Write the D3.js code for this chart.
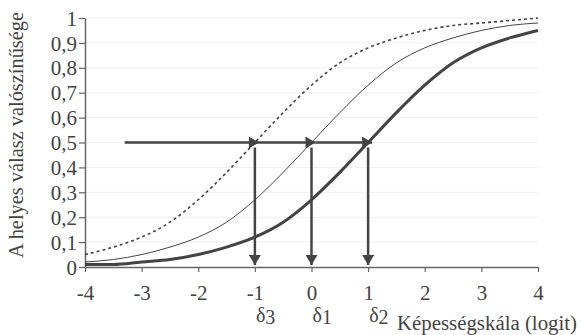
<!DOCTYPE html>
<html>
<head>
<meta charset="utf-8">
<script src="https://cdn.jsdelivr.net/npm/d3@7"></script>
<style>
  body { margin: 0; background: #fff; }
  svg { display: block; }
  text { font-family: "Liberation Serif", "Times New Roman", serif; fill: #444; }
</style>
</head>
<body>
<svg id="chart" width="580" height="335"></svg>
<script>
// ability scale points (logit)
const abilities = [-4, -3.5, -3, -2.5, -2, -1.5, -1, -0.5, 0, 0.5, 1, 1.5, 2, 2.5, 3, 3.5, 4];
// probability of correct answer
const itemDelta1 = [0.02, 0.03, 0.05, 0.08, 0.12, 0.18, 0.27, 0.38, 0.50, 0.62, 0.73, 0.82, 0.88, 0.92, 0.95, 0.97, 0.98];
const itemDelta2 = [0.01, 0.01, 0.02, 0.03, 0.05, 0.08, 0.12, 0.18, 0.27, 0.38, 0.50, 0.62, 0.73, 0.82, 0.88, 0.92, 0.95];
const itemDelta3 = [0.05, 0.08, 0.12, 0.18, 0.27, 0.38, 0.50, 0.62, 0.73, 0.82, 0.88, 0.92, 0.95, 0.97, 0.98, 0.99, 1.00];
const deltas = [["δ", "3", -1], ["δ", "1", 0], ["δ", "2", 1]];
const arrowStart = -3.3;
const xTicks = [-4, -3, -2, -1, 0, 1, 2, 3, 4];
const yTicks = [0, 0.1, 0.2, 0.3, 0.4, 0.5, 0.6, 0.7, 0.8, 0.9, 1];

const margin = { top: 18, right: 42, bottom: 68, left: 85 },
    width = 580 - margin.left - margin.right,
    height = 335 - margin.top - margin.bottom;

const svg = d3.select("#chart");
const g = svg.append("g")
    .attr("transform", `translate(${margin.left},${margin.top})`);

const x = d3.scaleLinear().domain([-4, 4]).range([0, width]);
const y = d3.scaleLinear().domain([0, 1]).range([height, 0]);

const ink = "#444";

// arrowheads
const defs = svg.append("defs");
defs.append("marker")
    .attr("id", "head")
    .attr("viewBox", "0 0 10 12")
    .attr("refX", 10).attr("refY", 6)
    .attr("markerWidth", 11).attr("markerHeight", 12)
    .attr("markerUnits", "userSpaceOnUse")
    .attr("orient", "auto")
    .append("path")
    .attr("d", "M0,0 L10,6 L0,12 Z")
    .attr("fill", ink);

// gridlines
g.append("g").selectAll("line")
    .data(yTicks.slice(1))
    .enter().append("line")
    .attr("x1", 0).attr("x2", width)
    .attr("y1", d => y(d)).attr("y2", d => y(d))
    .attr("stroke", "#f0f0f0")
    .attr("stroke-width", 1);

// axes
const yAxis = g.append("g")
    .call(d3.axisLeft(y).tickValues(yTicks).tickSize(6).tickSizeOuter(0)
        .tickFormat(d => String(d).replace(".", ",")));
const xAxis = g.append("g")
    .attr("transform", `translate(0,${height})`)
    .call(d3.axisBottom(x).tickValues(xTicks).tickSize(5).tickSizeOuter(0)
        .tickFormat(d => String(d)));

[yAxis, xAxis].forEach(a => {
    a.select(".domain").attr("stroke", "#666").attr("stroke-width", 1.5);
    a.selectAll(".tick line").attr("stroke", "#666").attr("stroke-width", 1.2);
    a.selectAll(".tick text").attr("font-size", 21).attr("fill", ink)
        .style("font-family", "'Liberation Serif', serif");
});
yAxis.selectAll(".tick text").attr("x", -8).attr("dy", "0.34em");
xAxis.selectAll(".tick text").attr("y", 33).attr("dy", 0);

// curves
const line = d3.line()
    .x((d, i) => x(abilities[i]))
    .y(d => y(d))
    .curve(d3.curveMonotoneX);

g.append("path").datum(itemDelta3)
    .attr("d", line).attr("fill", "none")
    .attr("stroke", ink).attr("stroke-width", 1.6)
    .attr("stroke-dasharray", "3,3");
g.append("path").datum(itemDelta1)
    .attr("d", line).attr("fill", "none")
    .attr("stroke", ink).attr("stroke-width", 1);
g.append("path").datum(itemDelta2)
    .attr("d", line).attr("fill", "none")
    .attr("stroke", ink).attr("stroke-width", 3);

// horizontal arrow segments at p = 0.5
const stops = [arrowStart].concat(deltas.map(d => d[2]));
for (let i = 0; i < deltas.length; i++) {
    g.append("line")
        .attr("x1", x(stops[i]) + (i ? 4 : 0)).attr("x2", x(stops[i + 1]) + 4)
        .attr("y1", y(0.5)).attr("y2", y(0.5))
        .attr("stroke", ink).attr("stroke-width", 2.5)
        .attr("marker-end", "url(#head)");
}

// vertical arrows down to the axis
g.append("g").selectAll("line")
    .data(deltas)
    .enter().append("line")
    .attr("x1", d => x(d[2])).attr("x2", d => x(d[2]))
    .attr("y1", y(0.5) + 5).attr("y2", y(0) - 2)
    .attr("stroke", ink).attr("stroke-width", 2.5)
    .attr("marker-end", "url(#head)");

// delta labels
const dl = g.append("g").selectAll("text")
    .data(deltas)
    .enter().append("text")
    .attr("x", d => x(d[2]) + 1)
    .attr("y", height + 55)
    .attr("text-anchor", "start")
    .attr("font-size", 20);
dl.append("tspan").text(d => d[0]);
dl.append("tspan").attr("dy", 2).text(d => d[1]);

// axis titles
svg.append("text")
    .attr("x", 397)
    .attr("y", 330)
    .attr("textLength", 180)
    .attr("lengthAdjust", "spacingAndGlyphs")
    .attr("font-size", 20)
    .text("Képességskála (logit)");

svg.append("text")
    .attr("transform", "translate(23,135) rotate(-90)")
    .attr("text-anchor", "middle")
    .attr("textLength", 246)
    .attr("lengthAdjust", "spacingAndGlyphs")
    .attr("font-size", 21)
    .text("A helyes válasz valószínűsége");
</script>
</body>
</html>
